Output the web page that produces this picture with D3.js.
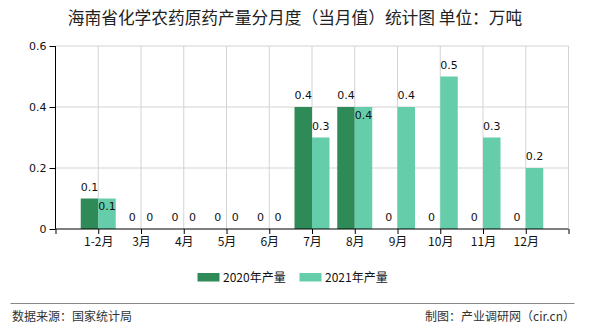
<!DOCTYPE html>
<html><head><meta charset="utf-8">
<script src="https://cdn.jsdelivr.net/npm/d3@7/dist/d3.min.js"></script>
<style>
body{margin:0;background:#fff;}
svg{display:block;font-family:"Noto Sans CJK SC","DejaVu Sans",sans-serif;}
</style></head>
<body><svg id="c" width="590" height="330"></svg>
<script>
const categories = ["1-2月","3月","4月","5月","6月","7月","8月","9月","10月","11月","12月"];
const series2020 = [0.1,0,0,0,0,0.4,0.4,0,0,0,0];
const series2021 = [0.1,0,0,0,0,0.3,0.4,0.4,0.5,0.3,0.2];
const seriesNames = ["2020年产量","2021年产量"];
const yTicks = [0,0.2,0.4,0.6];
const titleText = "海南省化学农药原药产量分月度（当月值）统计图 单位：万吨";
const sourceText = "数据来源：国家统计局";
const makerText = "制图：产业调研网（cir.cn）";
const colors = ["#2e8b57","#66cdaa"];

const svg = d3.select("#c");
const L = 55.5, R = 568.5, T = 46, B = 229;
const slots = ["_s", ...categories, "_e"];
const x = d3.scalePoint().domain(slots).range([L, R]).padding(0);
const y = d3.scaleLinear().domain([0, 0.6]).range([B, T]);
const bw = 17.5;

// title
svg.append("text").attr("x", 295).attr("y", 24).attr("text-anchor", "middle")
  .attr("font-size", 16.7).attr("fill", "#222").text(titleText);

// grid
const g = svg.append("g");
g.selectAll(".hg").data(yTicks.filter(d => d > 0)).join("line")
  .attr("x1", L).attr("x2", R).attr("y1", d => y(d)).attr("y2", d => y(d))
  .attr("stroke", "#d3d3d3").attr("stroke-width", 1);
g.selectAll(".vg").data(slots.slice(1)).join("line")
  .attr("x1", d => x(d)).attr("x2", d => x(d)).attr("y1", T).attr("y2", B)
  .attr("stroke", "#d3d3d3").attr("stroke-width", 1);

// bars
const data = categories.map((c, i) => ({c, v: [series2020[i], series2021[i]]}));
[0, 1].forEach(s => {
  svg.append("g").selectAll("rect").data(data).join("rect")
    .attr("x", d => x(d.c) + (s === 0 ? -bw : 0))
    .attr("width", bw)
    .attr("y", d => y(d.v[s]))
    .attr("height", d => B - y(d.v[s]))
    .attr("fill", colors[s]);
});

// labels
[0, 1].forEach(s => {
  svg.append("g").selectAll("text").data(data).join("text")
    .attr("x", d => x(d.c) + (s === 0 ? -bw / 2 : bw / 2))
    .attr("y", d => {
      const top = y(d.v[s]);
      const clash = s === 1 && d.v[0] === d.v[1] && d.v[1] > 0;
      return clash ? top + 11.5 : top - 8;
    })
    .attr("text-anchor", "middle").attr("font-size", 11)
    .attr("font-family", "DejaVu Sans").attr("fill", "#111")
    .text(d => d3.format("")(d.v[s]));
});

// y axis
const ya = svg.append("g").attr("transform", `translate(${L},0)`)
  .call(d3.axisLeft(y).tickValues(yTicks).tickSize(6).tickPadding(3).tickFormat(d3.format("")));
ya.select(".domain").attr("stroke", "#000").attr("d", `M0,${T}V${B}`);
ya.selectAll(".tick line").attr("stroke", "#000");
ya.selectAll("text").attr("font-size", 11).attr("font-family", "DejaVu Sans").attr("fill", "#111");

// x axis
const xa = svg.append("g").attr("transform", `translate(0,${B})`)
  .call(d3.axisBottom(x).tickSize(5).tickPadding(3).tickFormat(d => d.startsWith("_") ? "" : d));
xa.select(".domain").attr("stroke", "#000").attr("d", `M${L},0H${R}`);
xa.selectAll(".tick line").attr("stroke", "#000");
xa.selectAll("text").attr("font-size", 12).attr("fill", "#111")
  .attr("font-family", "Noto Sans CJK SC");

// legend
const leg = svg.append("g");
const legX = [197.5, 299.5];
seriesNames.forEach((n, i) => {
  leg.append("rect").attr("x", legX[i]).attr("y", 273).attr("width", 22).attr("height", 8.5).attr("fill", colors[i]);
  leg.append("text").attr("x", legX[i] + 25.5).attr("y", 281.5).attr("font-size", 12)
    .attr("fill", "#111").text(n);
});

// footer
svg.append("line").attr("x1", 10.5).attr("x2", 574.5).attr("y1", 303.5).attr("y2", 303.5)
  .attr("stroke", "#888").attr("stroke-width", 1);
svg.append("text").attr("x", 12).attr("y", 321).attr("font-size", 12).attr("fill", "#333").text(sourceText);
svg.append("text").attr("x", 575).attr("y", 321).attr("text-anchor", "end").attr("font-size", 12).attr("fill", "#333").text(makerText);
</script></body></html>
